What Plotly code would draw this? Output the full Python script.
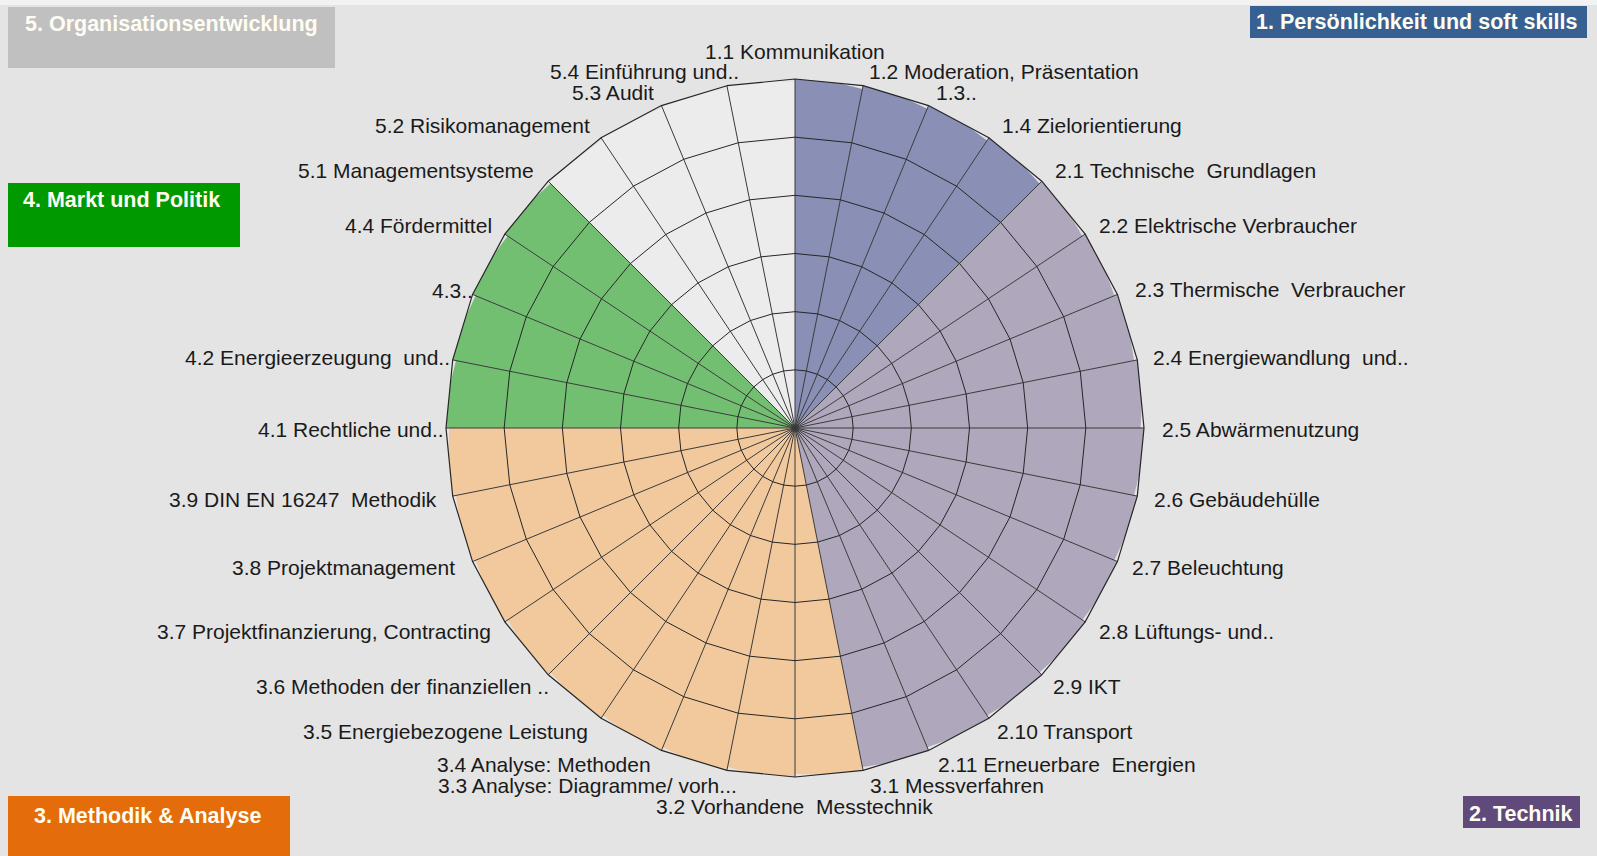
import plotly.graph_objects as go

# ---------------- data ----------------
group_names = [
    "1. Persönlichkeit und soft skills",
    "2. Technik",
    "3. Methodik & Analyse",
    "4. Markt und Politik",
    "5. Organisationsentwicklung",
]
cats_g1 = ["1.1 Kommunikation", "1.2 Moderation, Präsentation", "1.3..", "1.4 Zielorientierung"]
cats_g2 = ["2.1 Technische  Grundlagen", "2.2 Elektrische Verbraucher", "2.3 Thermische  Verbraucher",
           "2.4 Energiewandlung  und..", "2.5 Abwärmenutzung", "2.6 Gebäudehülle", "2.7 Beleuchtung",
           "2.8 Lüftungs- und..", "2.9 IKT", "2.10 Transport", "2.11 Erneuerbare  Energien"]
cats_g3 = ["3.1 Messverfahren", "3.2 Vorhandene  Messtechnik", "3.3 Analyse: Diagramme/ vorh...",
           "3.4 Analyse: Methoden", "3.5 Energiebezogene Leistung", "3.6 Methoden der finanziellen ..",
           "3.7 Projektfinanzierung, Contracting", "3.8 Projektmanagement", "3.9 DIN EN 16247  Methodik"]
cats_g4 = ["4.1 Rechtliche und..", "4.2 Energieerzeugung  und..", "4.3..", "4.4 Fördermittel"]
cats_g5 = ["5.1 Managementsysteme", "5.2 Risikomanagement", "5.3 Audit", "5.4 Einführung und.."]

vals_g1 = [6, 6, 6, 6]
vals_g2 = [6, 6, 6, 6, 6, 6, 6, 6, 6, 6, 6]
vals_g3 = [6, 6, 6, 6, 6, 6, 6, 6, 6]
vals_g4 = [6, 6, 6, 6]
vals_g5 = [6, 6, 6, 6]

radial_max = 6

# ---------------- styling / layout ----------------
W, H = 1597, 856
ML, MR, MT, MB = 0, 7, 79, 79
bg = "#e4e4e4"
fill_colors = ["#8a8fb6", "#afa8bd", "#f2c99d", "#73bf72", "#ececec"]
box_colors = ["#376092", "#604a7b", "#e46c0a", "#009a00", "#c0c0c0"]
font_family = "Liberation Sans, Arial, sans-serif"
label_size = 21
ring_color, spoke_color = "#262626", "#3a3a3a"

# category label placement (pixel x, pixel y-centre, anchor), same order as the categories
label_pos = [
    (795, 52, "center"), (868, 72, "left"), (935, 93, "left"), (1001, 126, "left"),
    (1054, 171, "left"), (1098, 225, "left"), (1134, 289, "left"), (1152, 357, "left"),
    (1161, 429, "left"), (1153, 499, "left"), (1131, 567, "left"), (1098, 631, "left"),
    (1052, 686, "left"), (996, 731, "left"), (937, 764, "left"),
    (869, 785, "left"), (794, 806, "center"), (738, 785, "right"), (652, 764, "right"),
    (589, 731, "right"), (550, 686, "right"), (492, 631, "right"), (456, 567, "right"),
    (438, 499, "right"),
    (445, 429, "right"), (451, 357, "right"), (474, 290, "right"), (493, 225, "right"),
    (535, 171, "right"), (591, 126, "right"), (655, 93, "right"), (740, 72, "right"),
]

all_cats = cats_g1 + cats_g2 + cats_g3 + cats_g4 + cats_g5
all_vals = vals_g1 + vals_g2 + vals_g3 + vals_g4 + vals_g5
groups = [(cats_g1, vals_g1), (cats_g2, vals_g2), (cats_g3, vals_g3), (cats_g4, vals_g4), (cats_g5, vals_g5)]

fig = go.Figure()
for (cats, vals), name, col in zip(groups, group_names, fill_colors):
    fig.add_trace(go.Barpolar(
        theta=cats, r=vals, name=name, subplot="polar",
        width=1, offset=0,
        marker=dict(color=col, line=dict(width=0)),
        hoverinfo="theta+r",
    ))

# grid overlay subplot (draws the polygon grid above the filled sectors)
fig.add_trace(go.Scatterpolar(theta=all_cats, r=all_vals, mode="none", subplot="polar2",
                              hoverinfo="skip", showlegend=False))

common_radial = dict(range=[0, radial_max], dtick=1, showticklabels=False, ticks="", showline=False)
common_angular = dict(type="category", categoryorder="array", categoryarray=all_cats,
                      rotation=90, direction="clockwise", ticks="", showticklabels=False)

fig.update_layout(
    width=W, height=H,
    margin=dict(l=ML, r=MR, t=MT, b=MB),
    paper_bgcolor=bg,
    plot_bgcolor=bg,
    showlegend=False,
    font=dict(family=font_family, size=label_size, color="#1a1a1a"),
    polar=dict(
        bgcolor=bg, gridshape="linear", domain=dict(x=[0, 1], y=[0, 1]), bargap=0,
        radialaxis=dict(**common_radial, showgrid=False),
        angularaxis=dict(**common_angular, showgrid=False, showline=False),
    ),
    polar2=dict(
        bgcolor="rgba(0,0,0,0)", gridshape="linear", domain=dict(x=[0, 1], y=[0, 1]),
        radialaxis=dict(**common_radial, showgrid=True, gridcolor=ring_color, gridwidth=1.1),
        angularaxis=dict(**common_angular, showgrid=True, gridcolor=spoke_color, gridwidth=0.8,
                         showline=True, linecolor=ring_color, linewidth=1.2),
    ),
)

def px2x(px):
    return (px - ML) / (W - ML - MR)

def py2y(py):
    return 1 - (py - MT) / (H - MT - MB)

# category labels
for cat, (lx, ly, anc) in zip(all_cats, label_pos):
    fig.add_annotation(text=cat, xref="paper", yref="paper", x=px2x(lx), y=py2y(ly),
                       xanchor=anc, yanchor="middle", showarrow=False, borderpad=0,
                       font=dict(family=font_family, size=label_size, color="#1a1a1a"))

# light band at the very top of the page
fig.add_shape(type="rect", xref="paper", yref="paper", x0=px2x(0), x1=px2x(W), y0=py2y(0), y1=py2y(5),
              fillcolor="#f2f2f2", line=dict(width=0), layer="below")

# group boxes: (x0, y0, x1, y1, text_x, text_y) in pixels
boxes = [
    (1250, 6, 1587, 38, 1255, 22),
    (1463, 796, 1580, 828, 1468, 814),
    (8, 796, 290, 856, 33, 816),
    (8, 183, 240, 247, 22, 200),
    (8, 7, 335, 68, 24, 24),
]
for (x0, y0, x1, y1, tx, ty), name, col in zip(boxes, group_names, box_colors):
    fig.add_shape(type="rect", xref="paper", yref="paper",
                  x0=px2x(x0), x1=px2x(x1), y0=py2y(y0), y1=py2y(y1),
                  fillcolor=col, line=dict(width=0), layer="above")
    fig.add_annotation(text="<b>" + name + "</b>", xref="paper", yref="paper",
                       x=px2x(tx), y=py2y(ty), xanchor="left", yanchor="middle",
                       showarrow=False, borderpad=0,
                       font=dict(family=font_family, size=21.5, color="#fffdf2"))

fig.write_html("out.html", config={"displayModeBar": False},
               post_script="document.body.style.margin='0px';")
